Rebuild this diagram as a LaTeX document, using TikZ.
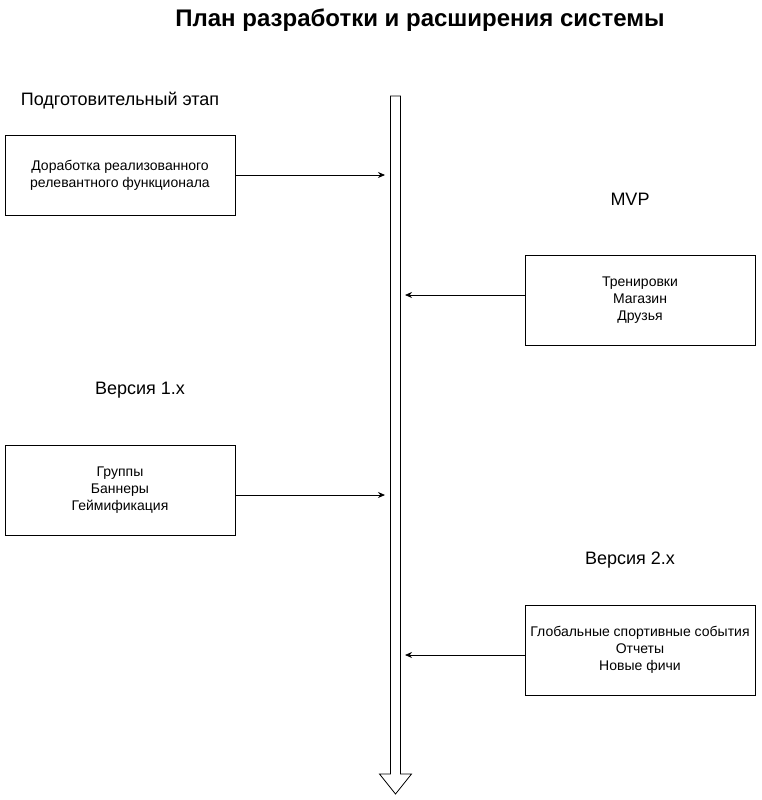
\documentclass[tikz,border=0pt]{standalone}
\usepackage{fontspec}
\setmainfont{Liberation Sans}
\usetikzlibrary{arrows.meta}
\begin{document}
\begin{tikzpicture}[x=1pt,y=-1pt,
  box/.style={draw,line width=0.8pt,minimum width=230pt,inner sep=0pt,font=\fontsize{14}{17}\selectfont,align=center},
  lbl/.style={font=\fontsize{18}{21}\selectfont},
  conn/.style={line width=0.8pt,-{Stealth[length=7pt,width=6pt]}},
]
\useasboundingbox (0,0) rectangle (761,800);
\node[font=\bfseries\fontsize{24}{28}\selectfont] (title) at (420,20) {План разработки и расширения системы};
% big arrow
\draw[line width=0.8pt,fill=white] (390.5,96) -- (400.5,96) -- (400.5,774) -- (411.5,774) -- (395.5,794) -- (379.5,774) -- (390.5,774) -- cycle;
\coordinate (t1) at (385,175);
\coordinate (t2) at (405,295);
\coordinate (t3) at (385,495);
\coordinate (t4) at (405,655);
\node[lbl] (l0) at (120,101) {Подготовительный этап};
\node[lbl] (l1) at (630,199) {MVP};
\node[lbl] (l2) at (140,390) {Версия 1.x};
\node[lbl] (l3) at (630,560) {Версия 2.x};
\node[box,minimum height=80pt] (b1) at (120,175) {Доработка реализованного\\релевантного функционала};
\node[box,minimum height=90pt] (b2) at (640,300) {Тренировки\\Магазин\\Друзья};
\node[box,minimum height=90pt] (b3) at (120,490) {Группы\\Баннеры\\Геймификация};
\node[box,minimum height=90pt] (b4) at (640,650) {Глобальные спортивные события\\Отчеты\\Новые фичи};
\draw[conn] (b1.east) -- (t1);
\draw[conn] (b2.west |- t2) -- (t2);
\draw[conn] (b3.east |- t3) -- (t3);
\draw[conn] (b4.west |- t4) -- (t4);
\end{tikzpicture}
\end{document}
